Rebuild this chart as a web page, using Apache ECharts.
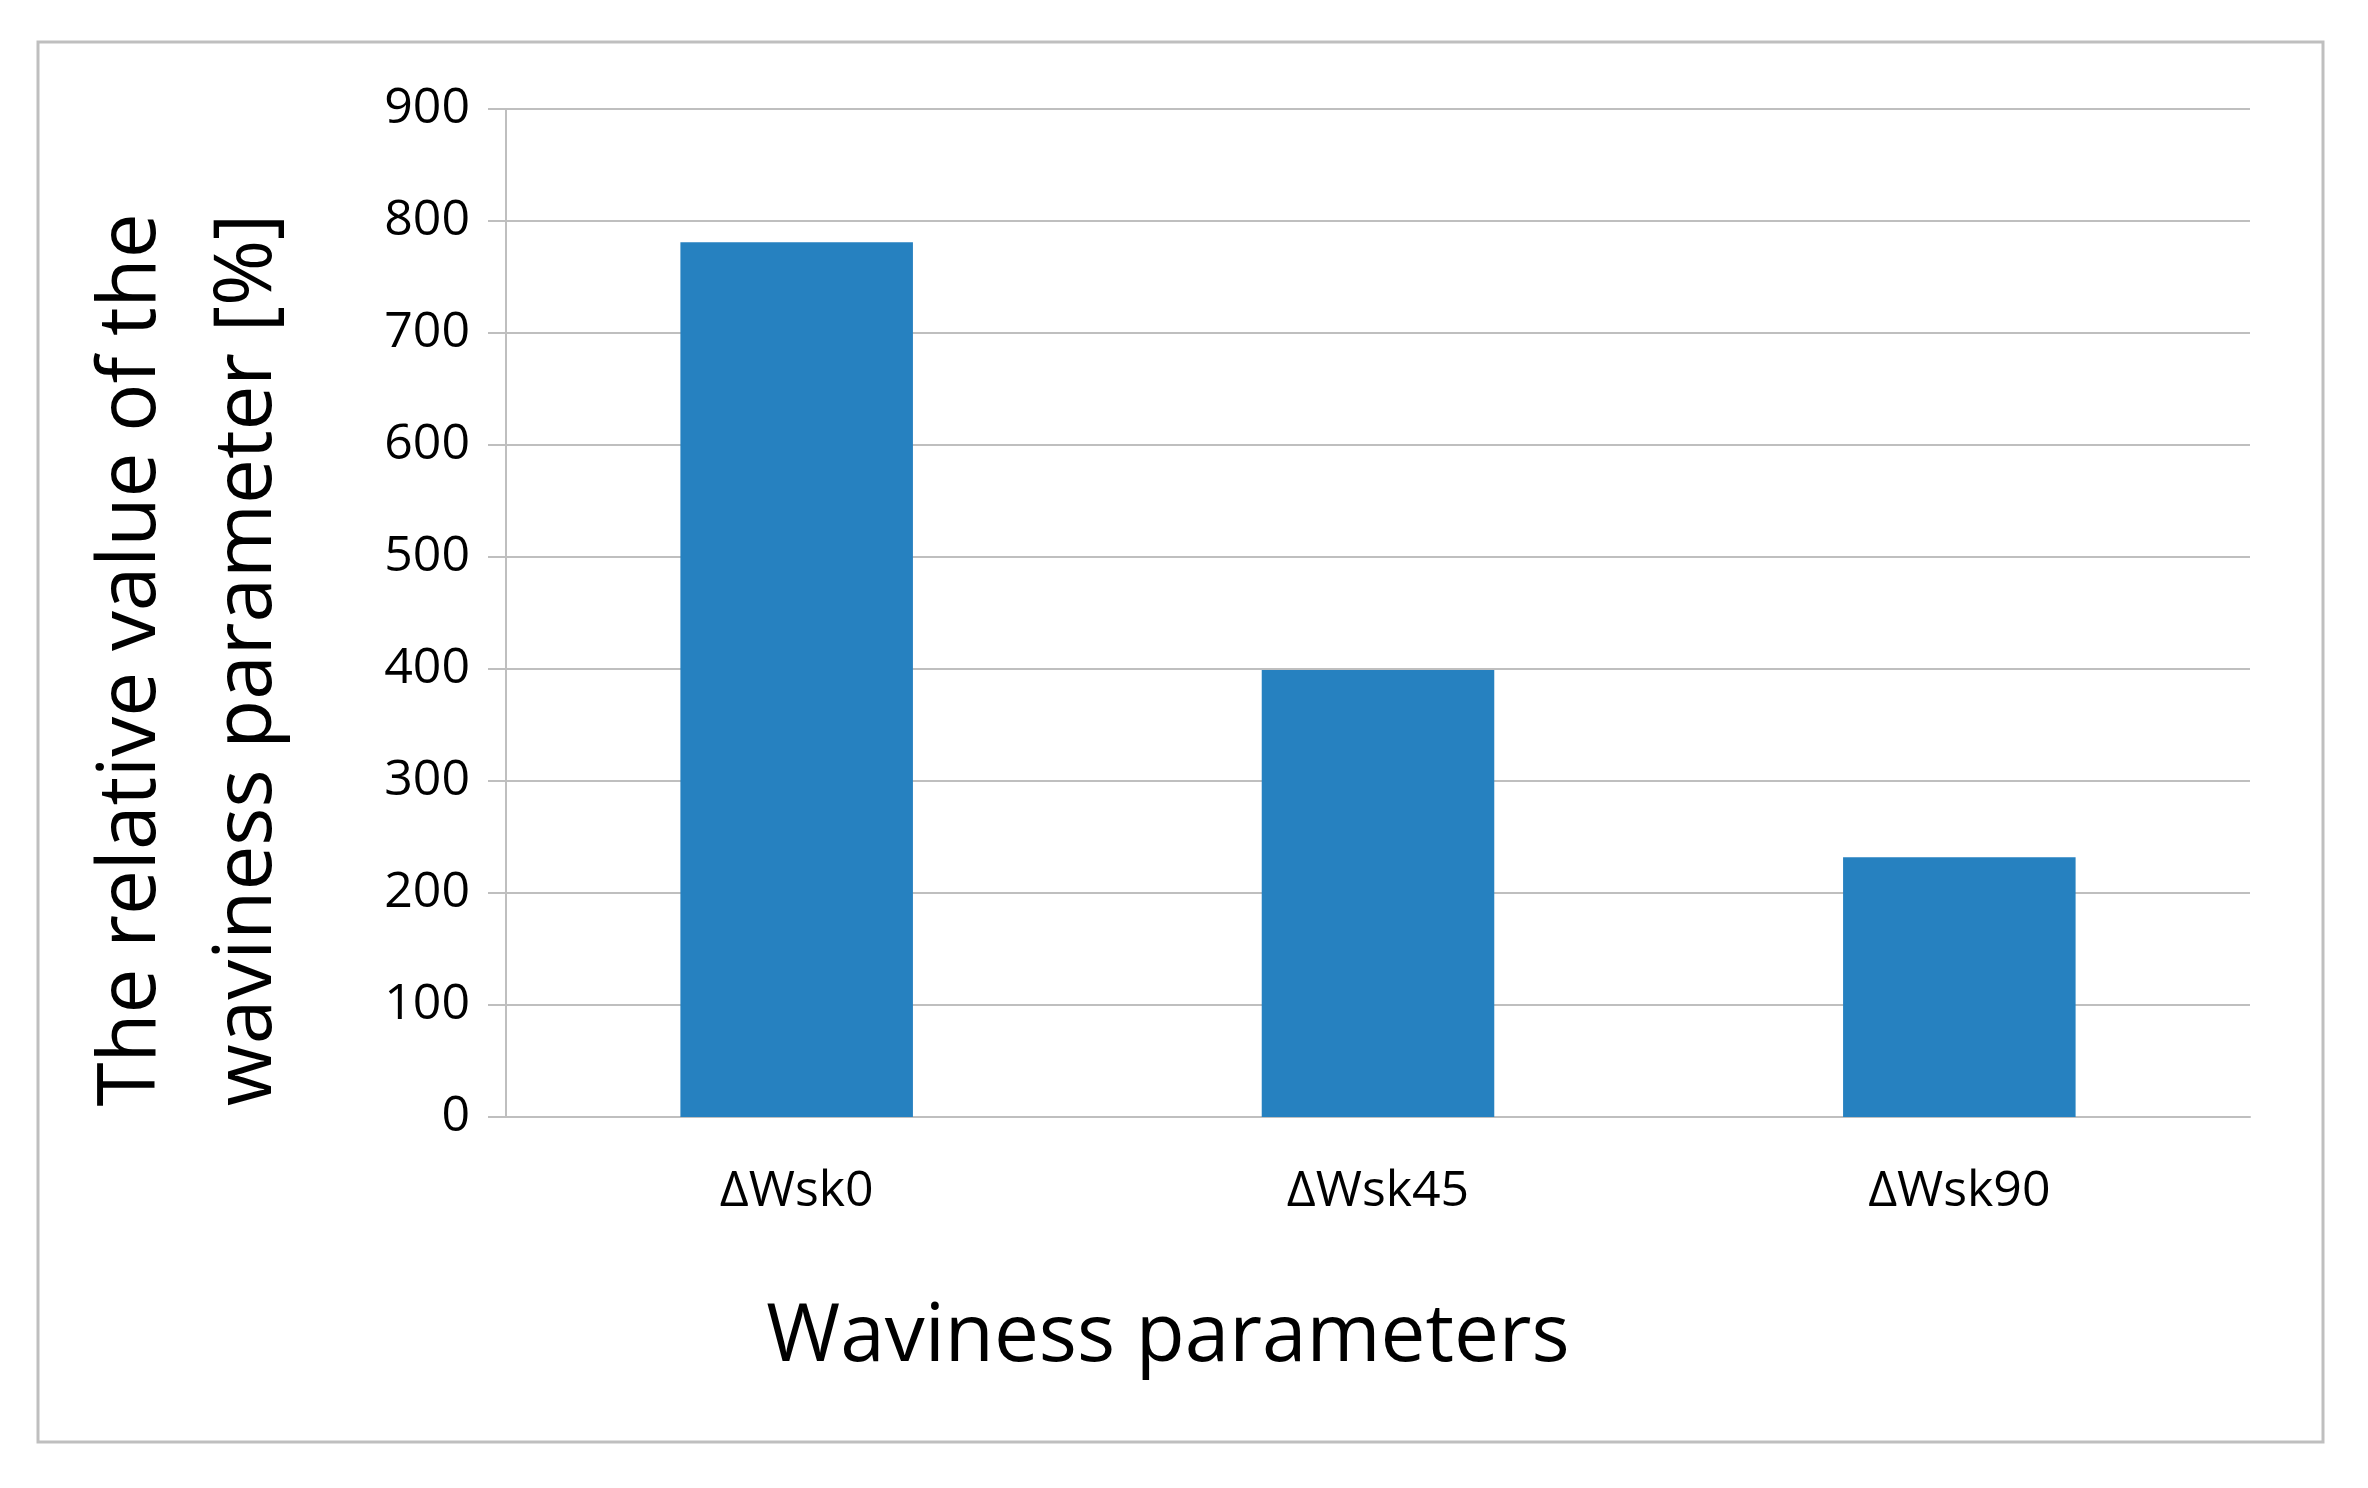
<!DOCTYPE html>
<html><head><meta charset="utf-8">
<script src="https://cdn.jsdelivr.net/npm/echarts@6/dist/echarts.min.js"></script>
<style>html,body{margin:0;background:#fff}#c{width:2368px;height:1488px}</style>
</head><body><div id="c"></div>
<script>
const categories = ['ΔWsk0', 'ΔWsk45', 'ΔWsk90'];
const values = [781, 399, 232];
const yTicks = [0, 100, 200, 300, 400, 500, 600, 700, 800, 900];
const F = 'Open Sans, sans-serif';
const chart = echarts.init(document.getElementById('c'));
chart.setOption({
  animation: false,
  backgroundColor: '#fff',
  graphic: [
    {type: 'rect', shape: {x: 38, y: 42, width: 2285, height: 1400}, style: {fill: 'none', stroke: '#bfbfbf', lineWidth: 3}},
    {type: 'text', x: 190, y: 660, rotation: Math.PI / 2, style: {text: 'The relative value of the\nwaviness parameter [%]', font: '80px ' + F, fill: '#000', align: 'center', verticalAlign: 'middle', lineHeight: 116}},
    {type: 'text', x: 1168, y: 1338, style: {text: 'Waviness parameters', font: '80px ' + F, fill: '#000', align: 'center', verticalAlign: 'middle'}}
  ],
  grid: {left: 506, right: 118, top: 109, bottom: 371},
  xAxis: {type: 'category', data: categories,
    axisLine: {lineStyle: {color: '#bfbfbf', width: 2}}, axisTick: {show: false},
    axisLabel: {color: '#000', fontSize: 50, fontFamily: F, margin: 50}},
  yAxis: {type: 'value', min: 0, max: 900, interval: 100,
    axisLine: {show: true, lineStyle: {color: '#bfbfbf', width: 2}},
    axisTick: {show: true, length: 18, lineStyle: {color: '#bfbfbf', width: 2}},
    splitLine: {lineStyle: {color: '#bfbfbf', width: 2}},
    axisLabel: {color: '#000', fontSize: 50, fontFamily: F, margin: 36,
      formatter: v => yTicks.includes(v) ? String(v) : ''}},
  series: [{type: 'bar', data: values, barWidth: '40%', itemStyle: {color: '#2681c0'}}]
});
</script></body></html>
